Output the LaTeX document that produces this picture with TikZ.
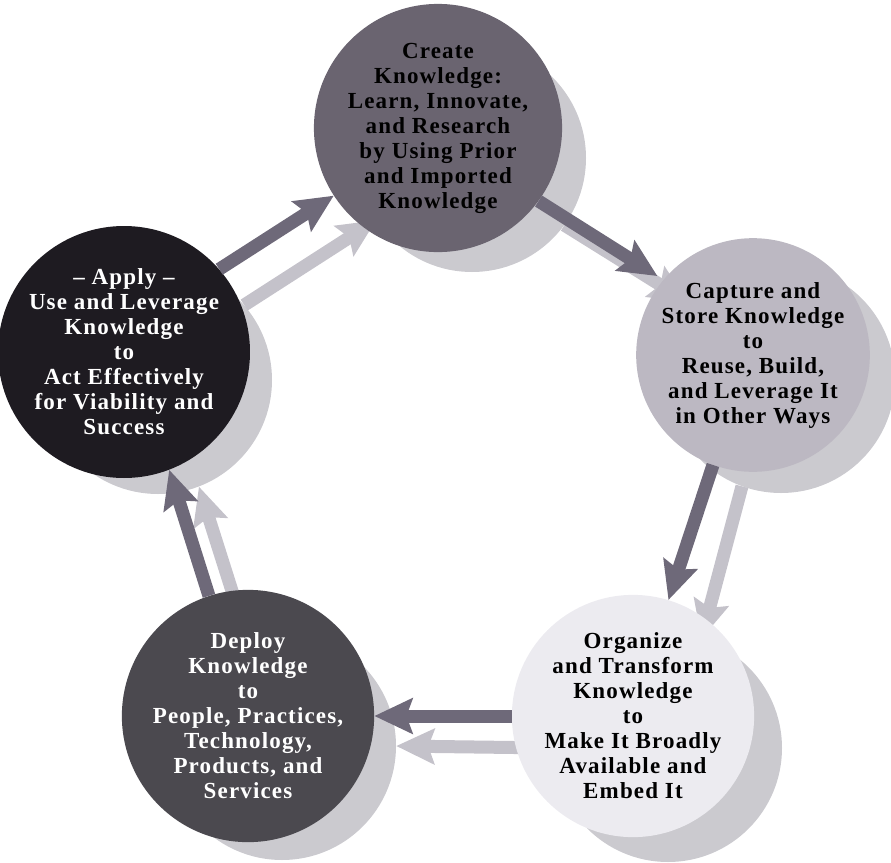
\documentclass[tikz,border=0pt]{standalone}
\usepackage{fontspec}
\setmainfont{Liberation Serif}
\usepackage{tikz}
\usetikzlibrary{arrows.meta}

\definecolor{createfill}{HTML}{6A6470}
\definecolor{capturefill}{HTML}{BCB8C2}
\definecolor{organizefill}{HTML}{ECEBF0}
\definecolor{deployfill}{HTML}{4B494F}
\definecolor{applyfill}{HTML}{1E1B21}
\definecolor{shadefill}{HTML}{CBCACF}
\definecolor{shadearrow}{HTML}{C4C2CA}
\definecolor{darkarrow}{HTML}{6E6979}

\begin{document}
\begin{tikzpicture}[x=1pt, y=-1pt,
    stage/.style={circle, minimum size=228pt, inner sep=0pt, align=center,
        font=\fontsize{23}{25}\selectfont\bfseries\addfontfeature{LetterSpace=5}},
    shadow/.style={circle, minimum size=228pt, inner sep=0pt, fill=shadefill},
    flow/.style={line width=13pt, draw=darkarrow,
        -{Stealth[length=38pt, width=35pt, inset=6pt]}},
    lightflow/.style={flow, draw=shadearrow}]
    \useasboundingbox (0, 0) rectangle (891, 862);

    % Shadows of the circles
    \node[shadow] (s1) at (472, 158) {};
    \node[shadow] (s2) at (781, 379) {};
    \node[shadow] (s3) at (668, 748) {};
    \node[shadow] (s4) at (282, 746) {};
    \node[shadow] (s5) at (158, 380) {};

    % Shadows of the arrows
    \draw[lightflow, shorten >=7pt] (s1.-36) -- (s2.140);
    \draw[lightflow] (s2.-110) -- (s3.73);
    \draw[lightflow] (s3.180) -- (s4.0);
    \draw[lightflow] (s4.108) -- (s5.-69);
    \draw[lightflow] (s5.41) -- (s1.213);

    % The five stages
    \node[stage, fill=createfill] (create) at (438, 128)
        {Create\\Knowledge:\\Learn, Innovate,\\and Research\\by Using Prior\\and Imported\\Knowledge};
    \node[stage, fill=capturefill] (capture) at (753, 355)
        {Capture and\\Store Knowledge\\to\\Reuse, Build,\\and Leverage It\\in Other Ways};
    \node[stage, fill=organizefill] (organize) at (633, 716)
        {Organize\\and Transform\\Knowledge\\to\\Make It Broadly\\Available and\\Embed It};
    \node[stage, fill=deployfill, text=white] (deploy) at (248, 716)
        {Deploy\\Knowledge\\to\\People, Practices,\\Technology,\\Products, and\\Services};
    \node[stage, fill=applyfill, text=white] (apply) at (124, 352)
        {-- Apply --\\Use and Leverage\\Knowledge\\to\\Act Effectively\\for Viability and\\Success};

    % Arrows of the cycle
    \draw[flow, shorten >=7pt] (create.-36) -- (capture.140);
    \draw[flow] (capture.-110) -- (organize.73);
    \draw[flow] (organize.180) -- (deploy.0);
    \draw[flow] (deploy.108) -- (apply.-69);
    \draw[flow] (apply.41) -- (create.213);
\end{tikzpicture}
\end{document}
